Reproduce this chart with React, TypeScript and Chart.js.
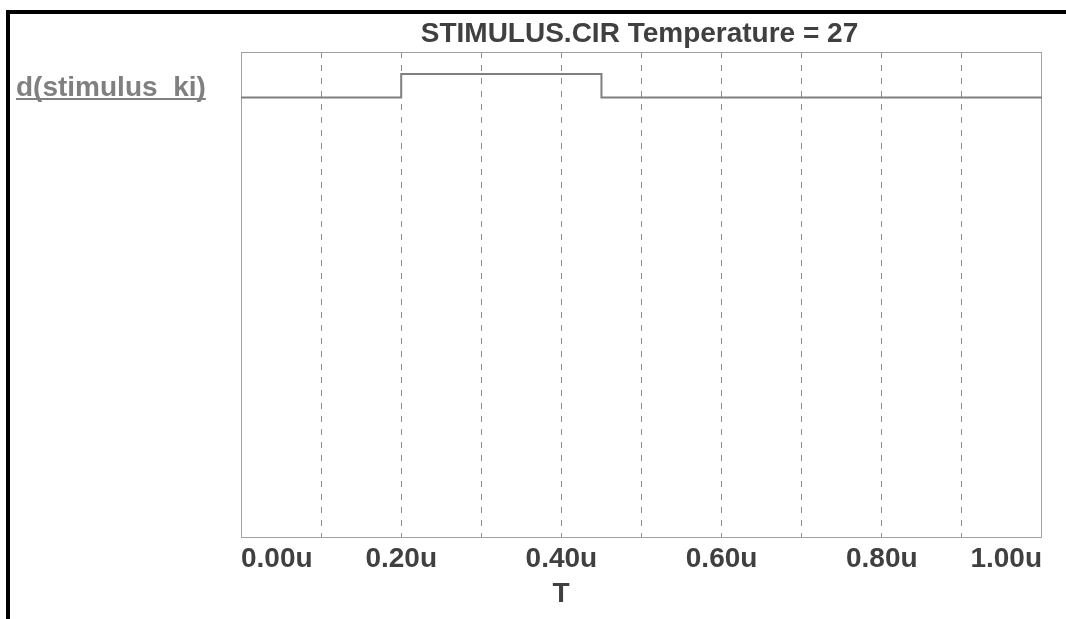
import React, { useEffect, useRef } from "react";
import { Chart, registerables } from "chart.js";

Chart.register(...registerables);

// ---- data ----
const timeMicro: number[] = [0, 0.2, 0.45, 1.0]; // T (u)
const stimulusLevel: number[] = [0, 1, 0, 0]; // d(stimulus_ki), step-before
const xTickValues: number[] = [0, 0.2, 0.4, 0.6, 0.8, 1.0];
const titleText = "STIMULUS.CIR Temperature = 27";
const traceName = "d(stimulus_ki)";
const xAxisTitle = "T";

// y range so that the digital trace sits near the top of the plot
const Y_MIN = -18.7;
const Y_MAX = 1.94;

const FONT = '"Liberation Sans", Arial, sans-serif';

const decorPlugin = {
  id: "decor",
  beforeDatasetsDraw(chart: any) {
    const { ctx, chartArea } = chart;
    const { left, top, right, bottom } = chartArea;
    ctx.save();
    ctx.strokeStyle = "#a0a0a0";
    ctx.lineWidth = 1;
    ctx.strokeRect(left + 0.5, top + 0.5, right - left - 1, bottom - top);
    ctx.restore();
  },
  afterDraw(chart: any) {
    const { ctx, chartArea } = chart;
    const { left, right } = chartArea;
    const xs = chart.scales.x;
    ctx.save();
    // outer black frame (left and top)
    ctx.fillStyle = "#000000";
    ctx.fillRect(6, 10, 4, 619 - 10);
    ctx.fillRect(6, 10, 1066 - 6, 4);

    // title
    ctx.font = `bold 28px ${FONT}`;
    ctx.fillStyle = "#404040";
    ctx.textAlign = "center";
    ctx.textBaseline = "alphabetic";
    ctx.fillText(titleText, (left + right) / 2 - 2, 42);

    // x tick labels
    xTickValues.forEach((v, i) => {
      const px = xs.getPixelForValue(v);
      const label = `${v.toFixed(2)}u`;
      if (i === 0) {
        ctx.textAlign = "left";
        ctx.fillText(label, left, 567);
      } else if (i === xTickValues.length - 1) {
        ctx.textAlign = "right";
        ctx.fillText(label, right, 567);
      } else {
        ctx.textAlign = "center";
        ctx.fillText(label, px, 567);
      }
    });

    // x axis title
    ctx.textAlign = "center";
    ctx.fillText(xAxisTitle, 561, 602);

    // trace name (underlined)
    ctx.fillStyle = "#808080";
    ctx.textAlign = "left";
    ctx.fillText(traceName, 16, 96);
    const w = ctx.measureText(traceName).width;
    ctx.fillRect(16, 98, w, 2);
    ctx.restore();
  },
};

export default function App() {
  const ref = useRef<HTMLCanvasElement | null>(null);

  useEffect(() => {
    if (!ref.current) return;
    const chart = new Chart(ref.current, {
      type: "line",
      data: {
        datasets: [
          {
            label: traceName,
            data: timeMicro.map((t, i) => ({ x: t, y: stimulusLevel[i] })),
            stepped: true,
            borderColor: "#7f7f7f",
            borderWidth: 2,
            pointRadius: 0,
            fill: false,
          },
        ],
      },
      options: {
        animation: false,
        responsive: false,
        maintainAspectRatio: false,
        devicePixelRatio: 1,
        layout: { padding: { left: 241, right: 24, top: 52, bottom: 82 } },
        plugins: {
          legend: { display: false },
          title: { display: false },
          tooltip: { enabled: false },
        },
        scales: {
          x: {
            type: "linear",
            min: 0,
            max: 1.0,
            ticks: {
              display: false,
              stepSize: 0.1,
              callback: (v: any) => String(v),
            },
            grid: {
              drawTicks: false,
              color: (c: any) => {
                const v = c.tick ? c.tick.value : 0;
                return v <= 0.0001 || v >= 0.9999 ? "rgba(0,0,0,0)" : "#8c8c8c";
              },
              lineWidth: 1,
            },
            border: { display: false, dash: [6, 7] },
          },
          y: {
            type: "linear",
            display: false,
            min: Y_MIN,
            max: Y_MAX,
          },
        },
      },
      plugins: [decorPlugin],
    });
    return () => chart.destroy();
  }, []);

  return (
    <div style={{ position: "absolute", left: 0, top: 0, width: 1066, height: 619, background: "#ffffff" }}>
      <canvas ref={ref} width={1066} height={619} style={{ display: "block" }} />
    </div>
  );
}
